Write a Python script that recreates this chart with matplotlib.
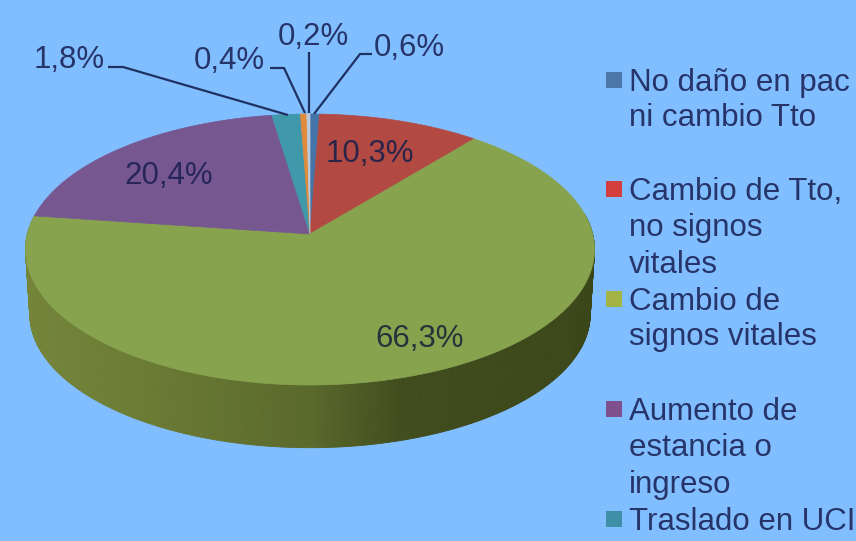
import numpy as np
import matplotlib
matplotlib.use("Agg")
import matplotlib.pyplot as plt
from matplotlib.colors import LinearSegmentedColormap

plt.rcParams["font.family"] = ["Liberation Sans", "DejaVu Sans"]

# slices, clockwise from the top
values = [0.6, 10.3, 66.3, 20.4, 1.8, 0.4, 0.2]
value_labels = ["0,6%", "10,3%", "66,3%", "20,4%", "1,8%", "0,4%", "0,2%"]
legend_entries = [
    ["No daño en pac", "ni cambio Tto"],
    ["Cambio de Tto,", "no signos", "vitales"],
    ["Cambio de", "signos vitales"],
    ["Aumento de", "estancia o", "ingreso"],
    ["Traslado en UCI"],
]

slice_colors = ["#4474A8", "#B24A43", "#87A34E", "#77578F", "#3F99AB", "#E08A3C", "#BCCBDC"]
legend_colors = ["#4B78A8", "#D23F3C", "#A3B444", "#80508C", "#3F8FA8"]
bg = "#80BEFF"
text_color = "#26346A"

# perspective of the pie in pixels
cx, cy = 310, 234
rx, ry, k = 282.6, 133.7, 0.1144
depth = 65
shrink = 0.985


def project(theta, offset=0.0, scale=1.0):
    u, v = np.sin(theta), np.cos(theta)
    s = 1 + k * v
    x = cx + scale * rx * u / s
    y = cy + offset - scale * ry * v / s
    return x, y


fig = plt.figure(figsize=(8.56, 5.41), dpi=100, facecolor=bg)
ax = fig.add_axes([0, 0, 1, 1])
ax.set_xlim(0, 856)
ax.set_ylim(541, 0)
ax.axis("off")

edges = 2 * np.pi * np.cumsum([0] + values) / sum(values)

# side wall, light on the left and dark on the right
wall = LinearSegmentedColormap.from_list(
    "wall", [(0, "#74853A"), (0.2, "#6C7C34"), (0.5, "#5A692C"), (0.66, "#424D1E"), (1, "#3C4719")]
)
for a, b in zip(edges[:-1], edges[1:]):
    n = max(2, int((b - a) * 90))
    th = np.linspace(a, b, n)
    for t0, t1 in zip(th[:-1], th[1:]):
        if np.cos((t0 + t1) / 2) > 0.15:
            continue
        x0, y0 = project(t0)
        x1, y1 = project(t1)
        x2, y2 = project(t1, depth, shrink)
        x3, y3 = project(t0, depth, shrink)
        c = wall(((x0 + x1) / 2 - 25) / 570)
        ax.fill([x0, x1, x2, x3], [y0, y1, y2, y3], color=c, lw=0.6, zorder=1)

# top face
for a, b, c in zip(edges[:-1], edges[1:], slice_colors):
    th = np.linspace(a, b, max(3, int((b - a) * 90)))
    x, y = project(th)
    ax.fill(np.r_[cx, x], np.r_[cy, y], facecolor=c, edgecolor=c, lw=0.5, zorder=2)

# labels inside the pie
ax.text(370, 154, value_labels[1], fontsize=22.5, color="#2A2448", ha="center", va="center", zorder=4)
ax.text(420, 339, value_labels[2], fontsize=22.5, color="#27323A", ha="center", va="center", zorder=4)
ax.text(169, 176, value_labels[3], fontsize=22.5, color="#26265A", ha="center", va="center", zorder=4)

# labels with leader lines
ax.text(69, 60, value_labels[4], fontsize=22.5, color=text_color, ha="center", va="center")
ax.text(229, 61, value_labels[5], fontsize=22.5, color=text_color, ha="center", va="center")
ax.text(313, 37, value_labels[6], fontsize=22.5, color=text_color, ha="center", va="center")
ax.text(409, 48, value_labels[0], fontsize=22.5, color=text_color, ha="center", va="center")

leader = dict(color="#1F3163", lw=1.6, zorder=3, solid_capstyle="butt")
ax.plot([108, 123, 288], [67, 67, 115], **leader)
ax.plot([270, 284, 305], [68, 68, 113], **leader)
ax.plot([309, 309], [52, 113], **leader)
ax.plot([372, 360, 314], [54, 54, 114], **leader)

# legend, cut off by the right and bottom edge as in the picture
line_y = [[83, 118], [192, 228, 265], [302, 337], [412, 448, 485], [522]]
for lines, ys, c in zip(legend_entries, line_y, legend_colors):
    ax.scatter([614], [ys[0] - 3], s=125, marker="s", color=c, linewidths=0, zorder=3)
    for line, y in zip(lines, ys):
        ax.text(629, y, line, fontsize=22.5, color=text_color, ha="left", va="center", clip_on=True)

fig.savefig("out.png", dpi=100, facecolor=bg)
